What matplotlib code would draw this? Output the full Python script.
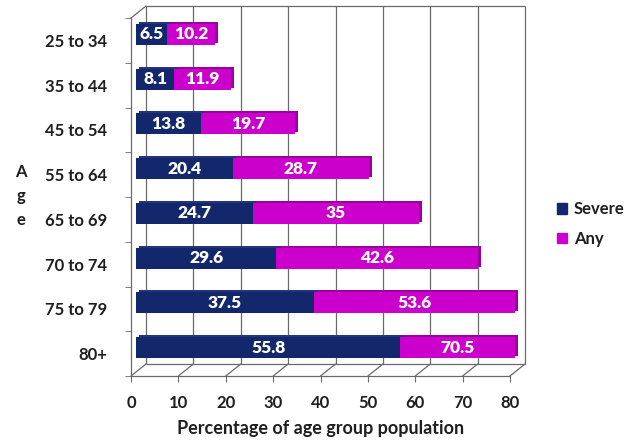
import numpy as np
import matplotlib.pyplot as plt
from matplotlib.transforms import offset_copy
from matplotlib.patches import ConnectionPatch, Patch

plt.rcParams['font.family'] = ['Lato', 'DejaVu Sans']
plt.rcParams['font.weight'] = 'bold'

ages = ['25 to 34', '35 to 44', '45 to 54', '55 to 64', '65 to 69', '70 to 74', '75 to 79', '80+']
severe = np.array([6.5, 8.1, 13.8, 20.4, 24.7, 29.6, 37.5, 55.8])
any_ = np.array([10.2, 11.9, 19.7, 28.7, 35, 42.6, 53.6, 70.5])
xticks = [0, 10, 20, 30, 40, 50, 60, 70, 80]

navy = '#13286c'
navy_side = '#24357a'
mag = '#cc00cc'
mag_side = '#9a009c'
grid_c = '#6a6a6a'
txt_c = '#1e1e1e'

fig = plt.figure(figsize=(6.26, 4.42), dpi=100)
ax = fig.add_axes([131/626, 66/442, 379/626, 358/442])
xmax = 80
ax.set_xlim(0, xmax)
ax.set_ylim(7.5, -0.5)
y = np.arange(len(ages))

back = offset_copy(ax.transData, fig, x=15, y=12, units='dots')
bar_tr = offset_copy(ax.transData, fig, x=5, y=6, units='dots')
side_tr = offset_copy(ax.transData, fig, x=8, y=8, units='dots')

# back wall and floor
ax.vlines(xticks, -0.5, 7.5, color=grid_c, lw=0.9, transform=back, clip_on=False, zorder=0)
ax.hlines([-0.5, 7.5], 0, xmax, color=grid_c, lw=0.9, transform=back, clip_on=False, zorder=0)
for xv in xticks:
    ax.add_artist(ConnectionPatch((xv, 7.5), (xv, 7.5), coordsA=ax.transData, coordsB=back,
                                  color=grid_c, lw=0.9, zorder=0))
ax.add_artist(ConnectionPatch((0, -0.5), (0, -0.5), coordsA=ax.transData, coordsB=back,
                              color=grid_c, lw=0.9, zorder=0))

# bars (stacked, clipped at axis max)
sev_w = np.minimum(severe, xmax)
any_w = np.minimum(severe + any_, xmax) - sev_w
h = 0.47
ax.barh(y, any_w, left=sev_w, height=h, color=mag_side, transform=side_tr, clip_on=False, zorder=2)
ax.barh(y, sev_w, height=h, color=navy_side, transform=side_tr, clip_on=False, zorder=2)
ax.barh(y, sev_w, height=h, color=navy, transform=bar_tr, clip_on=False, zorder=3)
ax.barh(y, any_w, left=sev_w, height=h, color=mag, transform=bar_tr, clip_on=False, zorder=3)

for i in range(len(ages)):
    ax.text(sev_w[i] / 2, y[i], f'{severe[i]:g}', transform=bar_tr, ha='center', va='center',
            color='white', fontsize=12.5, fontweight='heavy', zorder=4)
    ax.text(sev_w[i] + any_w[i] / 2, y[i], f'{any_[i]:g}', transform=bar_tr, ha='center', va='center',
            color='white', fontsize=12.5, fontweight='heavy', zorder=4)

for s in ['top', 'right']:
    ax.spines[s].set_visible(False)
for s in ['left', 'bottom']:
    ax.spines[s].set_color(grid_c)
    ax.spines[s].set_linewidth(0.9)

ax.set_xticks(xticks)
ax.set_xticklabels([str(v) for v in xticks])
ax.tick_params(axis='x', direction='out', length=4, color=grid_c, pad=10, labelsize=12, labelcolor=txt_c)
ax.set_yticks(y)
ax.set_yticklabels(ages)
ax.tick_params(axis='y', length=0, pad=17, labelsize=12, labelcolor=txt_c)
ax.set_yticks(np.arange(-0.5, 8, 1), minor=True)
ax.tick_params(axis='y', which='minor', direction='out', length=4, color=grid_c)
ax.patch.set_alpha(0)

ax.set_xlabel('Percentage of age group population', fontsize=13, fontweight='bold', color=txt_c, labelpad=6)
fig.text(21/626, 1 - 196/442, 'A\ng\ne', ha='center', va='center', fontsize=12,
         fontweight='bold', linespacing=1.6, color=txt_c)

handles = [Patch(color=navy, label='Severe'), Patch(color=mag, label='Any')]
fig.legend(handles=handles, loc='center left', bbox_to_anchor=(542/626, 1 - 224/442), frameon=False,
           fontsize=12, handlelength=0.6, handleheight=0.6, handletextpad=0.4, labelspacing=0.8,
           labelcolor=txt_c)

fig.savefig('out.png', dpi=100)
